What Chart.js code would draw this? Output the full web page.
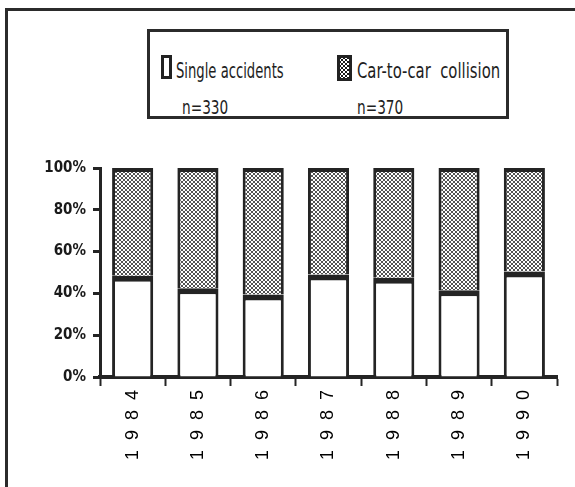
<!DOCTYPE html>
<html>
<head>
<meta charset="utf-8">
<script src="https://cdn.jsdelivr.net/npm/chart.js@4/dist/chart.umd.min.js"></script>
<style>
  html, body { margin: 0; padding: 0; background: #fff; overflow: hidden; }
  #wrap { position: relative; width: 575px; height: 487px; overflow: hidden; }
  #frameL { position: absolute; left: 5px; top: 8px; width: 3px; height: 480px; background: #2b2b2b; }
  #frameT { position: absolute; left: 5px; top: 8px; width: 570px; height: 3px; background: #2b2b2b; }
  canvas { position: absolute; left: 0; top: 0; }
  #legend { position: absolute; left: 147px; top: 29px; width: 362px; height: 90px;
            box-sizing: border-box; border: 3px solid #2b2b2b; background: #fff;
            font-family: "Liberation Sans Narrow", "DejaVu Sans Condensed", "Arial Narrow", sans-serif;
            color: #1e1e1e; }
  .sw { position: absolute; box-sizing: border-box; border: 3px solid #222; }
  .lbl { position: absolute; font-size: 22px; line-height: 1; white-space: pre; transform-origin: 0 0; }
  .n { position: absolute; font-size: 19px; line-height: 1; white-space: pre; transform-origin: 0 0; }
</style>
</head>
<body>
<div id="wrap">
  <div id="frameL"></div>
  <div id="frameT"></div>
  <canvas id="chart" width="575" height="487"></canvas>
  <div id="legend"></div>
</div>
<script>
// ----------------- DATA -----------------
const years = ["1984", "1985", "1986", "1987", "1988", "1989", "1990"];
const seriesNames = ["Single accidents", "Car-to-car  collision"];
const seriesCounts = ["n=330", "n=370"];
const singleShare = [48.5, 42.5, 39.5, 49, 47.5, 41.5, 50.5];
const carShare = [51.5, 57.5, 60.5, 51, 52.5, 58.5, 49.5];
const yTicks = [0, 20, 40, 60, 80, 100];

// ----------------- DOT PATTERN -----------------
function dotPattern(ctx) {
    const c = document.createElement("canvas");
    c.width = 4; c.height = 4;
    const p = c.getContext("2d");
    p.fillStyle = "#fff";
    p.fillRect(0, 0, 4, 4);
    p.fillStyle = "#1a1a1a";
    [[0, 0], [4, 0], [0, 4], [4, 4], [2, 2]].forEach(d => {
        p.beginPath(); p.arc(d[0], d[1], 1.0, 0, Math.PI * 2); p.fill();
    });
    return ctx.createPattern(c, "repeat");
}

// ----------------- LEGEND (html) -----------------
function buildLegend() {
    const lg = document.getElementById("legend");
    // positions relative to the inside of the legend box
    const items = [
        { sw: [11, 23, 11, 24], txt: [26, 28], sx: 0.665, n: [32, 66], dots: false },
        { sw: [187, 23, 15, 26], txt: [207, 28], sx: 0.75, n: [207, 66], dots: true }
    ];
    items.forEach((it, i) => {
        const s = document.createElement("div");
        s.className = "sw";
        s.style.left = it.sw[0] + "px"; s.style.top = it.sw[1] + "px";
        s.style.width = it.sw[2] + "px"; s.style.height = it.sw[3] + "px";
        s.style.background = it.dots
            ? "radial-gradient(circle, #1a1a1a 40%, transparent 50%) 0 0/4px 4px, " +
              "radial-gradient(circle, #1a1a1a 40%, transparent 50%) 2px 2px/4px 4px, #fff"
            : "#fff";
        lg.appendChild(s);

        const t = document.createElement("div");
        t.className = "lbl";
        t.textContent = seriesNames[i];
        t.style.left = it.txt[0] + "px"; t.style.top = it.txt[1] + "px";
        t.style.transform = "scaleX(" + it.sx + ")";
        lg.appendChild(t);

        const n = document.createElement("div");
        n.className = "n";
        n.textContent = seriesCounts[i];
        n.style.left = it.n[0] + "px"; n.style.top = it.n[1] + "px";
        n.style.transform = "scaleX(0.8)";
        lg.appendChild(n);
    });
}

// ----------------- CHART -----------------
window.onload = function() {
    buildLegend();
    const ctx = document.getElementById("chart").getContext("2d");
    const ink = "#242424";

    new Chart(ctx, {
        type: "bar",
        data: {
            labels: years,
            datasets: [
                {
                    label: seriesNames[0],
                    data: singleShare,
                    backgroundColor: "#ffffff",
                    borderColor: ink,
                    borderWidth: { top: 6, left: 3, right: 3, bottom: 0 },
                    borderSkipped: false,
                    barPercentage: 0.63,
                    categoryPercentage: 1
                },
                {
                    label: seriesNames[1],
                    data: carShare,
                    backgroundColor: dotPattern(ctx),
                    borderColor: ink,
                    borderWidth: { top: 4, left: 3, right: 3, bottom: 0 },
                    borderSkipped: false,
                    barPercentage: 0.63,
                    categoryPercentage: 1
                }
            ]
        },
        options: {
            responsive: false,
            animation: false,
            devicePixelRatio: 1,
            layout: { padding: { left: 0, top: 168, right: 18, bottom: 0 } },
            plugins: { legend: { display: false }, tooltip: { enabled: false } },
            scales: {
                x: {
                    stacked: true,
                    border: { display: true, width: 4, color: ink },
                    grid: { drawOnChartArea: false, drawTicks: true, tickLength: 9, tickWidth: 2, tickColor: ink },
                    ticks: {
                        minRotation: 90, maxRotation: 90, padding: 4, color: "#000",
                        font: { family: "'Liberation Sans', Arial, sans-serif", size: 18 },
                        callback: function(v, i) { return years[i].split("").join("  "); }
                    },
                    afterFit: function(s) { s.height = 110; }
                },
                y: {
                    stacked: true,
                    min: 0, max: 100,
                    afterBuildTicks: function(s) { s.ticks = yTicks.map(v => ({ value: v })); },
                    border: { display: true, width: 3, color: ink },
                    grid: { drawOnChartArea: false, drawTicks: true, tickLength: 7, tickWidth: 3, tickColor: ink },
                    ticks: {
                        padding: 7, color: "#1a1a1a",
                        font: { family: "'Liberation Sans Narrow', 'DejaVu Sans Condensed', 'Arial Narrow', sans-serif", size: 15, weight: "bold" },
                        callback: function(v) { return v + "%"; }
                    },
                    afterFit: function(s) { s.width = 100; }
                }
            }
        }
    });
};
</script>
</body>
</html>
